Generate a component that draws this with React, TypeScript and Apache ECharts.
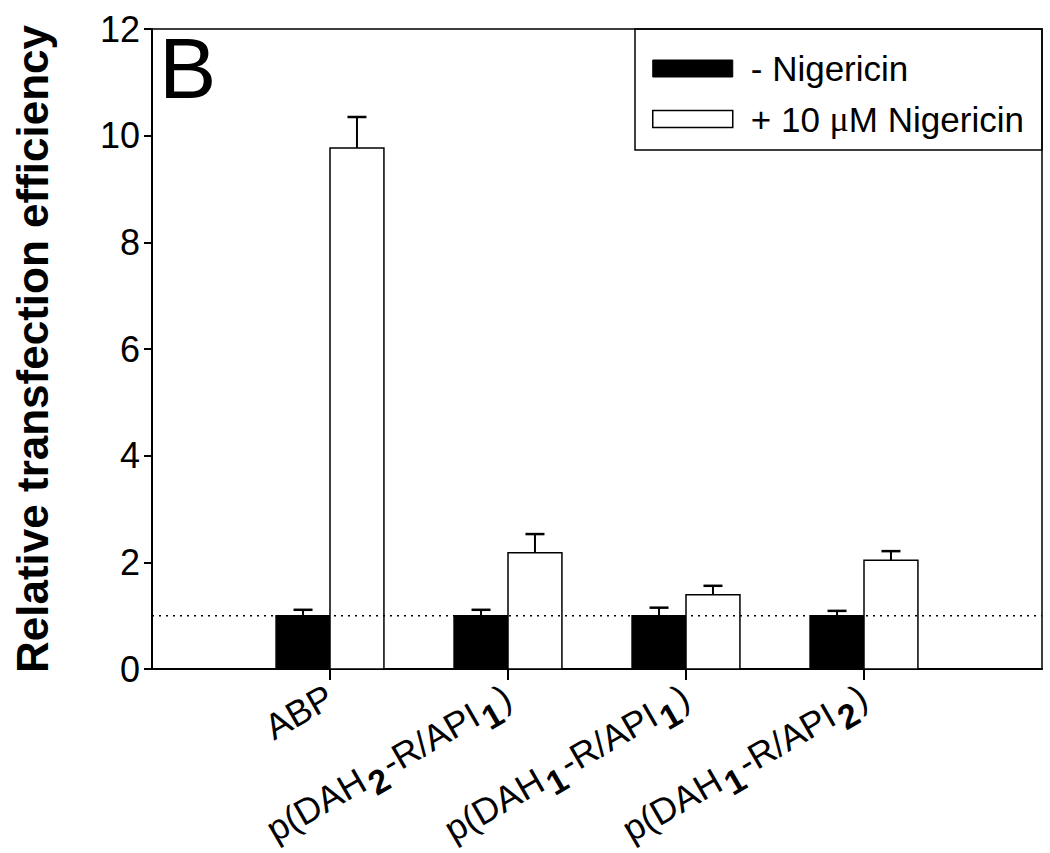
import React, { useEffect, useRef } from "react";
import * as echarts from "echarts";

// ---- data ----
const categories: string[] = ["ABP", "p(DAH2-R/API1)", "p(DAH1-R/API1)", "p(DAH1-R/API2)"];
const seriesNames: string[] = ["- Nigericin", "+ 10 \u03bcM Nigericin"];
const withoutNig: number[] = [1.0, 1.0, 1.0, 1.0];
const withoutNigErr: number[] = [0.11, 0.11, 0.15, 0.09];
const withNig: number[] = [9.77, 2.18, 1.39, 2.04];
const withNigErr: number[] = [0.58, 0.35, 0.17, 0.17];
const yTicks: number[] = [0, 2, 4, 6, 8, 10, 12];
const refLine: number = 1;

const FONT = "'Liberation Sans', Arial, Helvetica, sans-serif";
const SERIF = "'Liberation Serif', 'DejaVu Serif', serif";
const BAR_W = 0.303; // bar width in category units
const CAP_PX = 19;

function richLabel(s: string): string {
  return s.replace(/(DAH|API)(\d)/g, "$1{s|$2}");
}

export default function App() {
  const ref = useRef<HTMLDivElement>(null);
  useEffect(() => {
    if (!ref.current) return;
    const chart = echarts.init(ref.current, undefined, { renderer: "svg" });
    const positions = categories.map((_, i) => i + 1);

    const barSeries = (name: string, vals: number[], side: number, fill: string) => ({
      type: "custom",
      name,
      data: vals.map((v, i) => [positions[i], v]),
      encode: { x: 0, y: 1 },
      itemStyle: { color: fill, borderColor: "#000", borderWidth: 1.5 },
      z: 2,
      renderItem: (params: any, api: any) => {
        const x = api.value(0);
        const y = api.value(1);
        const p0 = api.coord([x, 0]);
        const p1 = api.coord([x, y]);
        const w = api.size([BAR_W, 0])[0];
        const left = side < 0 ? p0[0] - w : p0[0];
        return {
          type: "rect",
          shape: { x: left, y: p1[1], width: w, height: p0[1] - p1[1] },
          style: { fill, stroke: "#000", lineWidth: 1.5 },
        };
      },
    });

    const errSeries = (vals: number[], errs: number[], side: number) => ({
      type: "custom",
      data: vals.map((v, i) => [positions[i], v, errs[i]]),
      encode: { x: 0, y: 1 },
      z: 3,
      silent: true,
      renderItem: (params: any, api: any) => {
        const x = api.value(0);
        const y = api.value(1);
        const e = api.value(2);
        const w = api.size([BAR_W, 0])[0];
        const base = api.coord([x, y]);
        const top = api.coord([x, y + e]);
        const cx = base[0] + side * w / 2;
        return {
          type: "group",
          children: [
            { type: "line", shape: { x1: cx, y1: base[1], x2: cx, y2: top[1] }, style: { stroke: "#000", lineWidth: 2 } },
            { type: "line", shape: { x1: cx - CAP_PX / 2, y1: top[1], x2: cx + CAP_PX / 2, y2: top[1] }, style: { stroke: "#000", lineWidth: 2.5 } },
          ],
        };
      },
    });

    const option: any = {
      animation: false,
      backgroundColor: "#fff",
      textStyle: { fontFamily: FONT },
      grid: {
        left: 152,
        top: 29,
        width: 890,
        height: 640,
        show: true,
        borderColor: "#000",
        borderWidth: 1.5,
        backgroundColor: "transparent",
        containLabel: false,
        outerBoundsMode: "none",
      },
      legend: {
        orient: "vertical",
        left: 652,
        top: 51,
        padding: 0,
        itemWidth: 80,
        itemHeight: 17,
        itemGap: 15,
        selectedMode: false,
        formatter: (name: string) => name.replace("\u03bc", "{m|\u03bc}"),
        textStyle: {
          fontFamily: FONT,
          fontSize: 35,
          color: "#000",
          lineHeight: 30,
          padding: [0, 0, 0, 13],
          rich: { m: { fontFamily: SERIF, fontSize: 36, color: "#000", lineHeight: 30 } },
        },
        data: [
          { name: seriesNames[0], icon: "rect", itemStyle: { color: "#000", borderColor: "#000", borderWidth: 1 } },
          { name: seriesNames[1], icon: "rect", itemStyle: { color: "#fff", borderColor: "#000", borderWidth: 1.5 } },
        ],
      },
      xAxis: {
        type: "value",
        min: 0,
        max: categories.length + 1,
        splitLine: { show: false },
        axisLine: { show: true, onZero: false, lineStyle: { color: "#000", width: 2 } },
        axisTick: { show: true, customValues: positions, length: 11, lineStyle: { color: "#000", width: 2 } },
        axisLabel: {
          customValues: positions,
          rotate: 30,
          margin: 25,
          fontFamily: FONT,
          fontSize: 36,
          color: "#000",
          formatter: (v: number) => richLabel(categories[Math.round(v) - 1] || ""),
          rich: {
            s: { fontFamily: FONT, fontSize: 34, fontWeight: "bold", color: "#000", padding: [22, 3, 0, 3] },
          },
        },
      },
      yAxis: {
        type: "value",
        min: yTicks[0],
        max: yTicks[yTicks.length - 1],
        interval: 2,
        splitLine: { show: false },
        axisLine: { show: true, lineStyle: { color: "#000", width: 2 } },
        axisTick: { show: true, length: 8, lineStyle: { color: "#000", width: 2 } },
        axisLabel: { fontFamily: FONT, fontSize: 36, color: "#000", margin: 12 },
        name: "Relative transfection efficiency",
        nameLocation: "middle",
        nameRotate: 90,
        nameGap: 98,
        nameTextStyle: { fontFamily: FONT, fontSize: 44, fontWeight: "bold", color: "#000" },
      },
      graphic: [
        {
          type: "rect",
          shape: { x: 635, y: 29, width: 407, height: 121 },
          style: { fill: "transparent", stroke: "#000", lineWidth: 1.5 },
          z: 10,
          silent: true,
        },
        {
          type: "text",
          x: 159,
          y: 68,
          style: { text: "B", fontFamily: FONT, fontSize: 86, fill: "#000", verticalAlign: "middle", align: "left" },
          z: 10,
        },
      ],
      series: [
        barSeries(seriesNames[0], withoutNig, -1, "#000"),
        barSeries(seriesNames[1], withNig, 1, "#fff"),
        errSeries(withoutNig, withoutNigErr, -1),
        errSeries(withNig, withNigErr, 1),
        {
          type: "line",
          data: [[0, refLine], [categories.length + 1, refLine]],
          symbol: "none",
          silent: true,
          z: 4,
          lineStyle: { color: "#000", width: 1.5, type: [2, 5] },
        },
      ],
    };
    chart.setOption(option);
    return () => chart.dispose();
  }, []);
  return <div ref={ref} style={{ position: "fixed", left: 0, top: 0, width: 1050, height: 853, background: "#fff" }} />;
}
